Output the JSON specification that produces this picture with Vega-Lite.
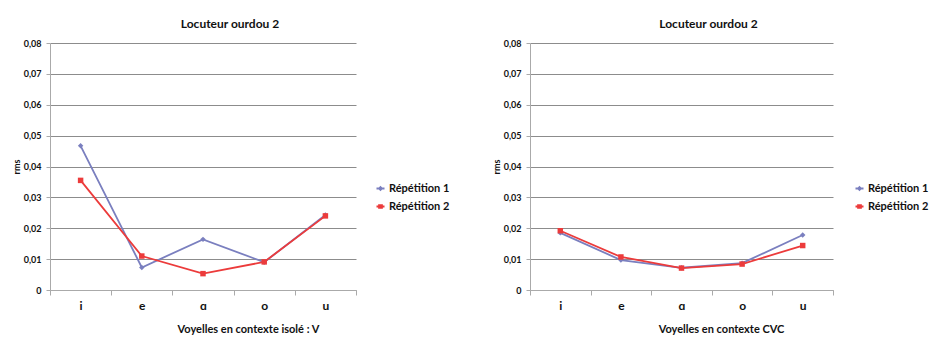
{
  "$schema": "https://vega.github.io/schema/vega-lite/v6.json",
  "padding": {"left": 12, "top": 18, "right": 5, "bottom": 5},
  "background": "white",
  "config": {
    "font": "Lato",
    "view": {"stroke": null},
    "axis": {"labelFont": "Lato", "titleFont": "Lato", "labelColor": "#111", "titleColor": "#111"}
  },
  "bounds": "flush",
  "spacing": 174,
  "resolve": {"scale": {"color": "independent"}, "legend": {"color": "independent"}},
  "data": {
    "values": [
      {"panel": "V", "voyelle": "i", "serie": "Répétition 1", "rms": 0.0467},
      {"panel": "V", "voyelle": "e", "serie": "Répétition 1", "rms": 0.0073},
      {"panel": "V", "voyelle": "ɑ", "serie": "Répétition 1", "rms": 0.0164},
      {"panel": "V", "voyelle": "o", "serie": "Répétition 1", "rms": 0.0090},
      {"panel": "V", "voyelle": "u", "serie": "Répétition 1", "rms": 0.0243},
      {"panel": "V", "voyelle": "i", "serie": "Répétition 2", "rms": 0.0355},
      {"panel": "V", "voyelle": "e", "serie": "Répétition 2", "rms": 0.0110},
      {"panel": "V", "voyelle": "ɑ", "serie": "Répétition 2", "rms": 0.0053},
      {"panel": "V", "voyelle": "o", "serie": "Répétition 2", "rms": 0.0091},
      {"panel": "V", "voyelle": "u", "serie": "Répétition 2", "rms": 0.0240},
      {"panel": "CVC", "voyelle": "i", "serie": "Répétition 1", "rms": 0.0185},
      {"panel": "CVC", "voyelle": "e", "serie": "Répétition 1", "rms": 0.0097},
      {"panel": "CVC", "voyelle": "ɑ", "serie": "Répétition 1", "rms": 0.0072},
      {"panel": "CVC", "voyelle": "o", "serie": "Répétition 1", "rms": 0.0087},
      {"panel": "CVC", "voyelle": "u", "serie": "Répétition 1", "rms": 0.0178},
      {"panel": "CVC", "voyelle": "i", "serie": "Répétition 2", "rms": 0.0192},
      {"panel": "CVC", "voyelle": "e", "serie": "Répétition 2", "rms": 0.0107},
      {"panel": "CVC", "voyelle": "ɑ", "serie": "Répétition 2", "rms": 0.0071},
      {"panel": "CVC", "voyelle": "o", "serie": "Répétition 2", "rms": 0.0084},
      {"panel": "CVC", "voyelle": "u", "serie": "Répétition 2", "rms": 0.0144}
    ]
  },
  "hconcat": [
    {
      "width": 306,
      "height": 247,
      "title": {"text": "Locuteur ourdou 2", "fontSize": 12, "fontWeight": "bold", "font": "Lato", "color": "#111", "dx": 27, "offset": 8},
      "transform": [{"filter": "datum.panel == 'V'"}],
      "encoding": {
        "x": {
          "field": "voyelle", "type": "nominal", "sort": ["i", "e", "ɑ", "o", "u"],
          "scale": {"type": "band", "paddingInner": 0, "paddingOuter": 0},
          "axis": {"title": "Voyelles en contexte isolé : V", "labelAngle": 0, "labelFontSize": 12, "labelFontWeight": "bold", "labelPadding": 5, "tickBand": "extent", "tickSize": 5, "tickColor": "#aaa", "domainColor": "#aaa", "grid": false, "titleFontSize": 11, "titleFontWeight": "bold", "titlePadding": 12, "titleX": 198}
        },
        "y": {
          "field": "rms", "type": "quantitative",
          "scale": {"domain": [0, 0.08], "nice": false},
          "axis": {"values": [0, 0.01, 0.02, 0.03, 0.04, 0.05, 0.06, 0.07, 0.08], "labelExpr": "datum.value == 0 ? '0' : replace(format(datum.value, '.2f'), '.', ',')", "labelFontSize": 9, "labelFontWeight": "bold", "labelPadding": 5, "tickSize": 4, "tickColor": "#aaa", "domainColor": "#aaa", "gridColor": "#8c8c8c", "title": "rms", "titleFontSize": 9, "titleFontWeight": "bold", "titlePadding": 2}
        },
        "color": {
          "field": "serie", "type": "nominal",
          "scale": {"domain": ["Répétition 1", "Répétition 2"], "range": ["#7A7FBF", "#EC3B3B"]},
          "legend": {
            "title": null, "orient": "none", "legendX": 325, "legendY": 140,
            "labelFontSize": 11, "labelFontWeight": "bold", "labelFont": "Lato", "labelColor": "#111", "rowPadding": 6, "symbolSize": 64, "symbolStrokeWidth": 2, "labelOffset": 3,
            "encode": {"symbols": {"update": {
              "shape": {"signal": "datum.value === 'Répétition 1' ? 'M-1,0H1M0,-0.32L0.32,0L0,0.32L-0.32,0Z' : 'M-1,0H1M-0.34,-0.34H0.34V0.34H-0.34Z'"},
              "fill": {"signal": "datum.value === 'Répétition 1' ? '#7A7FBF' : '#C8504D'"},
              "stroke": {"signal": "datum.value === 'Répétition 1' ? '#7A7FBF' : '#EC3B3B'"},
              "fillOpacity": {"value": 1}
            }}}
          }
        }
      },
      "layer": [
        {"mark": {"type": "line", "strokeWidth": 1.8}},
        {"mark": {"type": "point", "filled": true, "opacity": 1},
         "encoding": {
           "shape": {"condition": {"test": "datum.serie == 'Répétition 1'", "value": "diamond"}, "value": "square"},
           "size": {"value": 30}
         }}
      ]
    },
    {
      "width": 303,
      "height": 247,
      "title": {"text": "Locuteur ourdou 2", "fontSize": 12, "fontWeight": "bold", "font": "Lato", "color": "#111", "dx": 27, "offset": 8},
      "transform": [{"filter": "datum.panel == 'CVC'"}],
      "encoding": {
        "x": {
          "field": "voyelle", "type": "nominal", "sort": ["i", "e", "ɑ", "o", "u"],
          "scale": {"type": "band", "paddingInner": 0, "paddingOuter": 0},
          "axis": {"title": "Voyelles en contexte CVC", "labelAngle": 0, "labelFontSize": 12, "labelFontWeight": "bold", "labelPadding": 5, "tickBand": "extent", "tickSize": 5, "tickColor": "#aaa", "domainColor": "#aaa", "grid": false, "titleFontSize": 11, "titleFontWeight": "bold", "titlePadding": 12, "titleX": 191}
        },
        "y": {
          "field": "rms", "type": "quantitative",
          "scale": {"domain": [0, 0.08], "nice": false},
          "axis": {"values": [0, 0.01, 0.02, 0.03, 0.04, 0.05, 0.06, 0.07, 0.08], "labelExpr": "datum.value == 0 ? '0' : replace(format(datum.value, '.2f'), '.', ',')", "labelFontSize": 9, "labelFontWeight": "bold", "labelPadding": 5, "tickSize": 4, "tickColor": "#aaa", "domainColor": "#aaa", "gridColor": "#8c8c8c", "title": "rms", "titleFontSize": 9, "titleFontWeight": "bold", "titlePadding": 2}
        },
        "color": {
          "field": "serie", "type": "nominal",
          "scale": {"domain": ["Répétition 1", "Répétition 2"], "range": ["#7A7FBF", "#EC3B3B"]},
          "legend": {
            "title": null, "orient": "none", "legendX": 324, "legendY": 140,
            "labelFontSize": 11, "labelFontWeight": "bold", "labelFont": "Lato", "labelColor": "#111", "rowPadding": 6, "symbolSize": 64, "symbolStrokeWidth": 2, "labelOffset": 3,
            "encode": {"symbols": {"update": {
              "shape": {"signal": "datum.value === 'Répétition 1' ? 'M-1,0H1M0,-0.32L0.32,0L0,0.32L-0.32,0Z' : 'M-1,0H1M-0.34,-0.34H0.34V0.34H-0.34Z'"},
              "fill": {"signal": "datum.value === 'Répétition 1' ? '#7A7FBF' : '#C8504D'"},
              "stroke": {"signal": "datum.value === 'Répétition 1' ? '#7A7FBF' : '#EC3B3B'"},
              "fillOpacity": {"value": 1}
            }}}
          }
        }
      },
      "layer": [
        {"mark": {"type": "line", "strokeWidth": 1.8}},
        {"mark": {"type": "point", "filled": true, "opacity": 1},
         "encoding": {
           "shape": {"condition": {"test": "datum.serie == 'Répétition 1'", "value": "diamond"}, "value": "square"},
           "size": {"value": 30}
         }}
      ]
    }
  ]
}
